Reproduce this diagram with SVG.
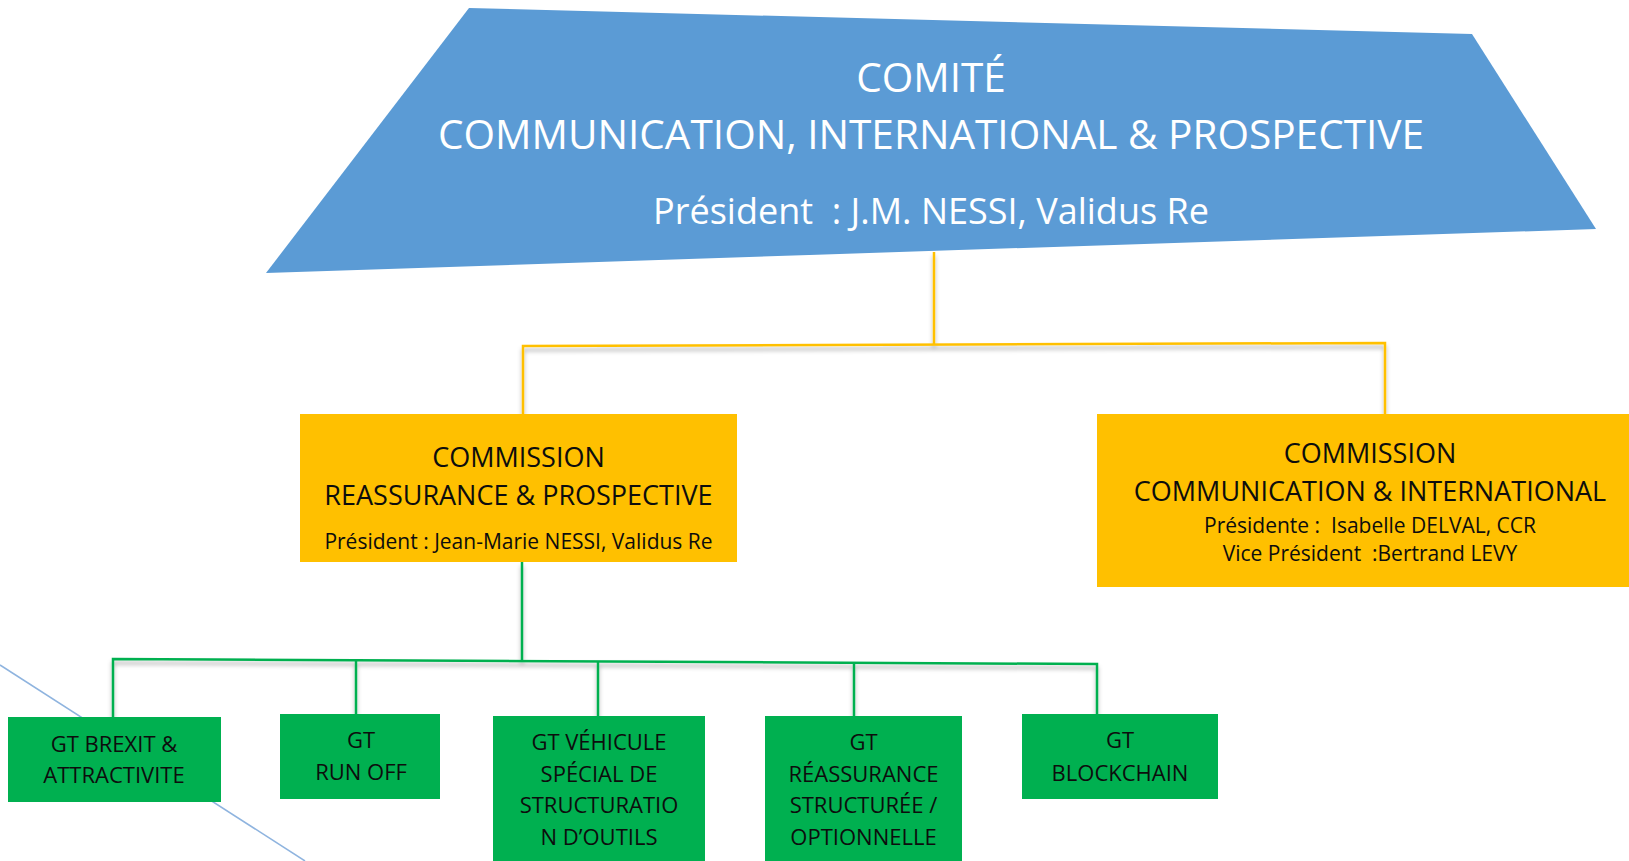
<svg xmlns="http://www.w3.org/2000/svg" width="1629" height="861" viewBox="0 0 1629 861">
<style>
text{font-family:"Open Sans","Noto Sans","Liberation Sans",sans-serif;text-anchor:middle}
.t{fill:#ffffff}
.d{fill:#0d0d0d}
.or{fill:#FFC000}
.gr{fill:#00B050}
.co{fill:none;stroke:#FFC000;stroke-width:2.5}
.cg{fill:none;stroke:#00B050;stroke-width:2.5}
</style>
<defs>
<filter id="sh" x="-5%" y="-50%" width="110%" height="200%">
<feDropShadow dx="0" dy="4" stdDeviation="2" flood-color="#000" flood-opacity="0.3"/>
</filter>
</defs>
<rect width="1629" height="861" fill="#ffffff"/>
<line x1="0" y1="665" x2="305" y2="861" stroke="#8FB4DF" stroke-width="1.5"/>
<g id="comite">
<polygon points="469,8 1472,34 1596,229 266,273" fill="#5B9BD5"/>
<text class="t" x="931" y="92" font-size="40.5">COMITÉ</text>
<text class="t" x="931" y="149" font-size="40.5" textLength="986" lengthAdjust="spacingAndGlyphs">COMMUNICATION, INTERNATIONAL &amp; PROSPECTIVE</text>
<text class="t" x="931" y="224" font-size="36" xml:space="preserve">Président  : J.M. NESSI, Validus Re</text>
</g>
<g id="connectors">
<g filter="url(#sh)">
<polyline class="co" points="934,252 934,344"/>
<polyline class="co" points="523,415 523,346 1385,343 1385,415"/>
<polyline class="cg" points="522,562 522,660"/>
<polyline class="cg" points="113,717 113,659 1097,664 1097,714"/>
<line class="cg" x1="356" y1="660" x2="356" y2="714"/>
<line class="cg" x1="598" y1="661" x2="598" y2="716"/>
<line class="cg" x1="854" y1="663" x2="854" y2="716"/>
</g>
</g>
<g id="commission-reassurance">
<rect class="or" x="300" y="414" width="437" height="148"/>
<text class="d" x="518.5" y="467" font-size="27">COMMISSION</text>
<text class="d" x="518.5" y="505" font-size="27">REASSURANCE &amp; PROSPECTIVE</text>
<text class="d" x="518.5" y="549" font-size="21">Président : Jean-Marie NESSI, Validus Re</text>
</g>
<g id="commission-communication">
<rect class="or" x="1097" y="414" width="532" height="173"/>
<text class="d" x="1370" y="463" font-size="27">COMMISSION</text>
<text class="d" x="1370" y="501" font-size="27">COMMUNICATION &amp; INTERNATIONAL</text>
<text class="d" x="1370" y="533" font-size="21" xml:space="preserve">Présidente :  Isabelle DELVAL, CCR</text>
<text class="d" x="1370" y="561" font-size="21" xml:space="preserve">Vice Président  :Bertrand LEVY</text>
</g>
<g id="gt-brexit">
<rect class="gr" x="8" y="717" width="213" height="85"/>
<text class="d" x="114" y="752" font-size="22">GT BREXIT &amp;</text>
<text class="d" x="114" y="783" font-size="22">ATTRACTIVITE</text>
</g>
<g id="gt-runoff">
<rect class="gr" x="280" y="714" width="160" height="85"/>
<text class="d" x="361" y="748" font-size="22">GT</text>
<text class="d" x="361" y="780" font-size="22">RUN OFF</text>
</g>
<g id="gt-vehicule">
<rect class="gr" x="493" y="716" width="212" height="145"/>
<text class="d" x="599" y="750" font-size="22">GT VÉHICULE</text>
<text class="d" x="599" y="782" font-size="22">SPÉCIAL DE</text>
<text class="d" x="599" y="813" font-size="22">STRUCTURATIO</text>
<text class="d" x="599" y="845" font-size="22">N D’OUTILS</text>
</g>
<g id="gt-reassurance">
<rect class="gr" x="765" y="716" width="197" height="145"/>
<text class="d" x="863.5" y="750" font-size="22">GT</text>
<text class="d" x="863.5" y="782" font-size="22">RÉASSURANCE</text>
<text class="d" x="863.5" y="813" font-size="22">STRUCTURÉE /</text>
<text class="d" x="863.5" y="845" font-size="22">OPTIONNELLE</text>
</g>
<g id="gt-blockchain">
<rect class="gr" x="1022" y="714" width="196" height="85"/>
<text class="d" x="1120" y="748" font-size="22">GT</text>
<text class="d" x="1120" y="781" font-size="22">BLOCKCHAIN</text>
</g>
</svg>
